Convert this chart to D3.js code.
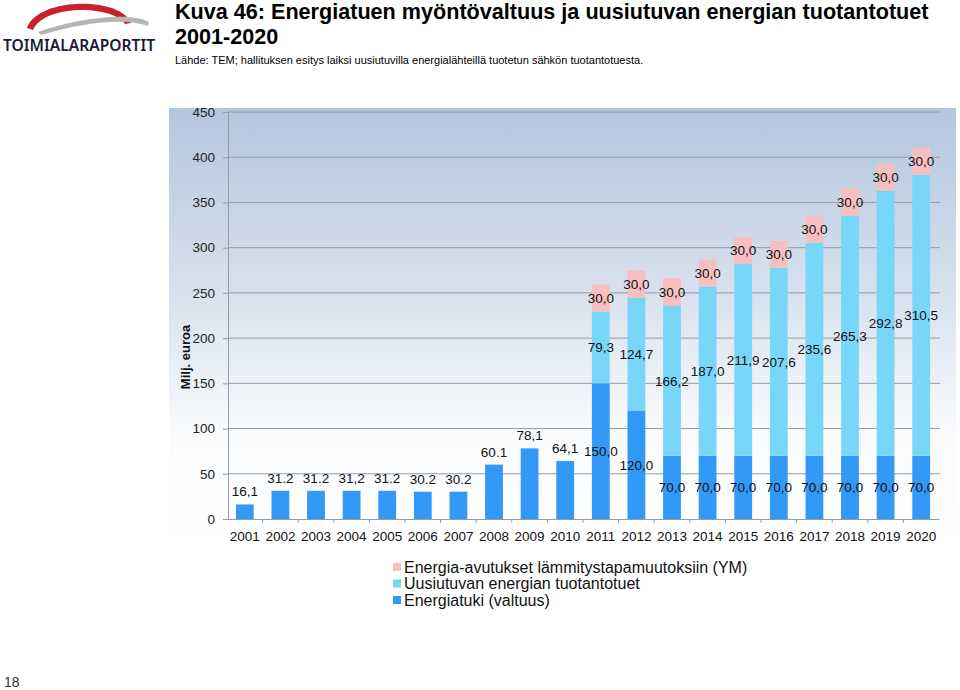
<!DOCTYPE html>
<html><head><meta charset="utf-8">
<script src="https://cdn.jsdelivr.net/npm/d3@7"></script>
<style>body{margin:0;background:#fff}svg{display:block}</style>
</head><body>
<svg id="c" width="960" height="690"></svg>
<script>
const years = ["2001","2002","2003","2004","2005","2006","2007","2008","2009","2010","2011","2012","2013","2014","2015","2016","2017","2018","2019","2020"];
const energiatuki = [16.1,31.2,31.2,31.2,31.2,30.2,30.2,60.1,78.1,64.1,150.0,120.0,70.0,70.0,70.0,70.0,70.0,70.0,70.0,70.0];
const energiatukiLabels = ["16,1","31.2","31.2","31,2","31.2","30.2","30.2","60.1","78,1","64,1","150,0","120,0","70,0","70,0","70,0","70,0","70,0","70,0","70,0","70,0"];
const uusiutuva = [0,0,0,0,0,0,0,0,0,0,79.3,124.7,166.2,187.0,211.9,207.6,235.6,265.3,292.8,310.5];
const ymAvustus = [0,0,0,0,0,0,0,0,0,0,30,30,30,30,30,30,30,30,30,30];
const yTicks = [0,50,100,150,200,250,300,350,400,450];
const seriesNames = ["Energia-avutukset lämmitystapamuutoksiin (YM)","Uusiutuvan energian tuotantotuet","Energiatuki (valtuus)"];
const colors = {ym:"#f8bfc0", uus:"#78d6f9", et:"#3399f7"};

const svg = d3.select("#c");
const F = "'Liberation Sans', Arial, sans-serif";

// Logo
const logo = svg.append("g");
logo.append("path").attr("d","M27,28 C37,-3 121,-4 131,23 L125,24 C112,5 45,4 33,30 Z").attr("fill","#c8232c");
logo.append("path").attr("d","M38,32 C75,19 128,11 149,22 L148,26 C124,17 80,23 41,35 Z").attr("fill","#b5b5b5");
logo.append("text").attr("x",3).attr("y",51).attr("font-family","'Noto Sans', sans-serif").attr("font-weight","600")
  .attr("font-size",16.5).attr("fill","#1b1b33").attr("textLength",152).attr("lengthAdjust","spacingAndGlyphs").text("TOIMIALARAPORTIT");

// Titles
svg.append("text").attr("x",175).attr("y",19).attr("font-family",F).attr("font-weight","bold").attr("font-size",21.6).attr("fill","#000")
  .text("Kuva 46: Energiatuen myöntövaltuus ja uusiutuvan energian tuotantotuet");
svg.append("text").attr("x",175).attr("y",44).attr("font-family",F).attr("font-weight","bold").attr("font-size",21.6).attr("fill","#000").text("2001-2020");
svg.append("text").attr("x",175).attr("y",64).attr("font-family",F).attr("font-size",11).attr("fill","#000")
  .text("Lähde: TEM; hallituksen esitys laiksi uusiutuvilla energialähteillä tuotetun sähkön tuotantotuesta.");
svg.append("text").attr("x",4).attr("y",687).attr("font-family",F).attr("font-size",14).attr("fill","#333").text("18");

// Plot background gradient
const defs = svg.append("defs");
const lg = defs.append("linearGradient").attr("id","bg").attr("x1",0).attr("y1",0).attr("x2",0).attr("y2",1);
lg.append("stop").attr("offset","0%").attr("stop-color","#b4c6de");
lg.append("stop").attr("offset","45%").attr("stop-color","#d9e2ee");
lg.append("stop").attr("offset","75%").attr("stop-color","#f8fafc");
lg.append("stop").attr("offset","100%").attr("stop-color","#ffffff");
svg.append("rect").attr("x",169).attr("y",108).attr("width",787).attr("height",425).attr("fill","url(#bg)");

const x = d3.scaleBand().domain(years).range([227,939]).paddingInner(0.5).paddingOuter(0.25);
const y = d3.scaleLinear().domain([0,450]).range([519,112]);

// gridlines
svg.append("g").selectAll("line").data(yTicks.filter(d=>d>0)).join("line")
  .attr("x1",228).attr("x2",940).attr("y1",d=>y(d)).attr("y2",d=>y(d)).attr("stroke","#959ba4").attr("stroke-width",1);

// y axis
const ya = svg.append("g").attr("transform","translate(228,0)").call(d3.axisLeft(y).tickValues(yTicks).tickSize(5).tickPadding(8));
ya.select(".domain").attr("stroke","#959ba4");
ya.selectAll(".tick line").attr("stroke","#959ba4");
ya.selectAll("text").attr("font-family",F).attr("font-size",13.5).attr("fill","#222");
svg.append("text").attr("transform","translate(190,357) rotate(-90)").attr("text-anchor","middle")
  .attr("font-family",F).attr("font-weight","bold").attr("font-size",13).attr("fill","#111").text("Milj. euroa");

// x axis
const xa = svg.append("g").attr("transform","translate(0,519)").call(d3.axisBottom(x).tickSize(0).tickPadding(12));
xa.select(".domain").attr("stroke","#959ba4");
xa.selectAll("text").attr("font-family",F).attr("font-size",13.5).attr("fill","#111");
svg.append("g").selectAll("line").data(years.slice(1)).join("line")
  .attr("x1",d=>x(d)-x.step()*x.paddingInner()/2).attr("x2",d=>x(d)-x.step()*x.paddingInner()/2)
  .attr("y1",519).attr("y2",523).attr("stroke","#959ba4");

// bars
const data = years.map((yr,i)=>({yr, et:energiatuki[i], uus:uusiutuva[i], ym:ymAvustus[i], lab:energiatukiLabels[i], i}));
const fmt = v => v.toFixed(1).replace(".",",");
const g = svg.append("g");
g.selectAll(".et").data(data).join("rect").attr("x",d=>x(d.yr)).attr("width",x.bandwidth())
  .attr("y",d=>y(d.et)).attr("height",d=>y(0)-y(d.et)).attr("fill",colors.et);
g.selectAll(".uus").data(data.filter(d=>d.uus>0)).join("rect").attr("x",d=>x(d.yr)).attr("width",x.bandwidth())
  .attr("y",d=>y(d.et+d.uus)).attr("height",d=>y(d.et)-y(d.et+d.uus)).attr("fill",colors.uus);
g.selectAll(".ym").data(data.filter(d=>d.ym>0)).join("rect").attr("x",d=>x(d.yr)).attr("width",x.bandwidth())
  .attr("y",d=>y(d.et+d.uus+d.ym)).attr("height",d=>y(d.et+d.uus)-y(d.et+d.uus+d.ym)).attr("fill",colors.ym);

// labels
const lt = svg.append("g").attr("font-family",F).attr("font-size",13.5).attr("fill","#111").attr("text-anchor","middle");
data.forEach(d=>{
  const cx = x(d.yr)+x.bandwidth()/2;
  if (d.uus===0) {
    lt.append("text").attr("x",cx).attr("y",y(d.et)-8).text(d.lab);
  } else {
    lt.append("text").attr("x",cx).attr("y",y(d.et/2)+5).text(d.lab);
    lt.append("text").attr("x",cx).attr("y",y(d.et+d.uus/2)+5).text(fmt(d.uus));
    lt.append("text").attr("x",cx).attr("y",y(d.et+d.uus+d.ym/2)+5).text(fmt(d.ym));
  }
});

// legend
const leg = svg.append("g");
const legCols = [colors.ym, colors.uus, colors.et];
seriesNames.forEach((n,i)=>{
  const yy = 567 + i*16.5;
  leg.append("rect").attr("x",393).attr("y",yy-4).attr("width",8).attr("height",8).attr("fill",legCols[i]);
  leg.append("text").attr("x",404).attr("y",yy+5.5).attr("font-family",F).attr("font-size",16).attr("fill","#111").text(n);
});
</script>
</body></html>
